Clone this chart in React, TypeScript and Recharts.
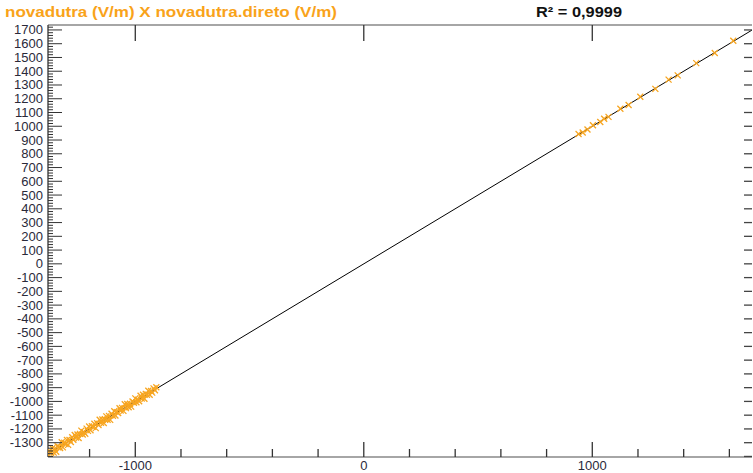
import React from "react";
import {
  ComposedChart,
  Scatter,
  XAxis,
  YAxis,
  ReferenceLine,
} from "recharts";

// measured pairs: novadutra.direto (x) vs novadutra (y)
const lowX = [
  -1388, -1381, -1376, -1369, -1363, -1357, -1352, -1346, -1340, -1334, -1329, -1322,
  -1317, -1311, -1305, -1299, -1294, -1288, -1282, -1276, -1271, -1265, -1259, -1253,
  -1248, -1242, -1236, -1230, -1225, -1219, -1213, -1207, -1202, -1196, -1190, -1184,
  -1179, -1173, -1167, -1161, -1156, -1150, -1144, -1138, -1133, -1127, -1121, -1115,
  -1110, -1104, -1098, -1092, -1087, -1081, -1075, -1069, -1064, -1058, -1052, -1046,
  -1041, -1035, -1029, -1023, -1018, -1012, -1006, -1000, -995, -989, -983, -977,
  -972, -966, -960, -954, -949, -943, -937, -931, -926, -920, -914, -908,
];
const lowY = [
  -1383, -1393, -1358, -1375, -1341, -1372, -1343, -1366, -1326, -1331, -1338, -1297,
  -1334, -1300, -1309, -1280, -1316, -1281, -1295, -1260, -1279, -1244, -1262, -1241,
  -1266, -1236, -1212, -1241, -1223, -1235, -1198, -1214, -1182, -1210, -1180, -1185,
  -1162, -1194, -1159, -1171, -1133, -1155, -1131, -1157, -1129, -1109, -1133, -1106,
  -1134, -1090, -1104, -1071, -1102, -1078, -1084, -1050, -1066, -1047, -1069, -1021,
  -1049, -1019, -1042, -1017, -1038, -1000, -1010, -978, -1006, -988, -999, -959,
  -979, -952, -981, -945, -952, -923, -951, -924, -936, -905, -919, -897,
];
const highX = [940, 958, 979, 1003, 1035, 1052, 1071, 1123, 1159, 1210, 1276, 1334, 1374, 1455, 1536, 1617];
const highY = [944, 955, 976, 1007, 1031, 1055, 1068, 1127, 1155, 1214, 1272, 1339, 1370, 1459, 1532, 1621];

// regression line ends
const fitX = [-1404, 1740];
const fitY = [-1404, 1740];

const xMajor = [-1000, 0, 1000];
const xTicks = [-1200, -1000, -800, -600, -400, -200, 0, 200, 400, 600, 800, 1000, 1200, 1400, 1600];
const yLabels = [
  -1300, -1200, -1100, -1000, -900, -800, -700, -600, -500, -400, -300, -200, -100, 0,
  100, 200, 300, 400, 500, 600, 700, 800, 900, 1000, 1100, 1200, 1300, 1400, 1500, 1600, 1700,
];
const yRight = [-1400, ...yLabels];
const yMinor: number[] = [];
for (let v = -1400; v <= 1720; v += 20) yMinor.push(v);

const title = "novadutra (V/m) X novadutra.direto (V/m)";
const r2Text = "R² = 0,9999";

const points = [
  ...lowX.map((x, i) => ({ x, y: lowY[i] })),
  ...highX.map((x, i) => ({ x, y: highY[i] })),
];

const FONT = "'Liberation Sans', Arial, sans-serif";
const ORANGE = "#F7A520";

const Cross = (props: any) => {
  const { cx, cy } = props;
  if (cx == null || cy == null) return null;
  const s = 3;
  return (
    <g stroke={ORANGE} strokeWidth={1.3}>
      <line x1={cx - s} y1={cy - s} x2={cx + s} y2={cy + s} />
      <line x1={cx - s} y1={cy + s} x2={cx + s} y2={cy - s} />
    </g>
  );
};

const LeftTick = (props: any) => {
  const { x, y, payload } = props;
  const v = payload.value;
  const axisX = x + 5;
  const labelled = yLabels.includes(v);
  const len = labelled ? 14 : 5;
  return (
    <g>
      <line x1={axisX} x2={axisX + len} y1={y} y2={y} stroke="#333" strokeWidth={1} />
      {labelled && (
        <text x={x} y={y} dy={4.5} textAnchor="end" fontSize={13} fontFamily={FONT} fill="#2a2a3a">
          {v}
        </text>
      )}
    </g>
  );
};

const RightTick = (props: any) => {
  const { x, y } = props;
  return <line x1={x - 8} x2={x} y1={y} y2={y} stroke="#444" strokeWidth={1.3} />;
};

const BottomTick = (props: any) => {
  const { x, y, payload } = props;
  const v = payload.value;
  const axisY = y - 2;
  const major = xMajor.includes(v);
  return (
    <g>
      <line x1={x} x2={x} y1={axisY} y2={axisY - (major ? 15 : 8)} stroke="#333" strokeWidth={1.3} />
      {major && (
        <text x={x} y={axisY} dy={13} textAnchor="middle" fontSize={13} fontFamily={FONT} fill="#2a2a3a">
          {v}
        </text>
      )}
    </g>
  );
};

const TopTick = (props: any) => {
  const { x, y } = props;
  return <line x1={x} x2={x} y1={y} y2={y + 16} stroke="#333" strokeWidth={1.3} />;
};

export default function App() {
  return (
    <div style={{ position: "absolute", left: 0, top: 0, width: 753, height: 473, background: "#fff" }}>
      <ComposedChart
        width={753}
        height={473}
        data={points}
        margin={{ top: 0, right: 0, bottom: 0, left: 0 }}
      >
        <XAxis
          xAxisId="top"
          orientation="top"
          type="number"
          dataKey="x"
          domain={[-1382, 1699]}
          allowDataOverflow
          ticks={xMajor}
          interval={0}
          height={25}
          tickSize={0}
          tickMargin={0}
          tick={<TopTick />}
          axisLine={{ stroke: "#888", strokeWidth: 1.5 }}
          tickLine={false}
        />
        <XAxis
          type="number"
          dataKey="x"
          domain={[-1382, 1699]}
          allowDataOverflow
          ticks={xTicks}
          interval={0}
          height={16}
          tickSize={0}
          tickMargin={2}
          tick={<BottomTick />}
          axisLine={{ stroke: "#888", strokeWidth: 1.5 }}
          tickLine={false}
        />
        <YAxis
          type="number"
          dataKey="y"
          domain={[-1404, 1736]}
          allowDataOverflow
          ticks={yMinor}
          interval={0}
          width={48}
          tickSize={0}
          tickMargin={5}
          tick={<LeftTick />}
          axisLine={{ stroke: "#333", strokeWidth: 1.3 }}
          tickLine={false}
        />
        <YAxis
          yAxisId="right"
          orientation="right"
          type="number"
          domain={[-1404, 1736]}
          allowDataOverflow
          ticks={yRight}
          interval={0}
          width={1}
          tickSize={0}
          tickMargin={0}
          tick={<RightTick />}
          axisLine={false}
          tickLine={false}
        />
        <Scatter data={points} dataKey="y" shape={<Cross />} isAnimationActive={false} />
        <ReferenceLine
          segment={[
            { x: fitX[0], y: fitY[0] },
            { x: fitX[1], y: fitY[1] },
          ]}
          stroke="#000"
          strokeWidth={1}
          ifOverflow="hidden"
        />
      </ComposedChart>
      <svg
        width={753}
        height={25}
        style={{ position: "absolute", left: 0, top: 0, pointerEvents: "none" }}
      >
        <text
          x={5}
          y={17}
          fontFamily={FONT}
          fontWeight="bold"
          fontSize={15}
          fill="#F9A31A"
          textLength={332}
          lengthAdjust="spacingAndGlyphs"
        >
          {title}
        </text>
        <text
          x={536}
          y={17}
          fontFamily={FONT}
          fontWeight="bold"
          fontSize={15}
          fill="#111"
          textLength={86}
          lengthAdjust="spacingAndGlyphs"
        >
          {r2Text}
        </text>
      </svg>
    </div>
  );
}
